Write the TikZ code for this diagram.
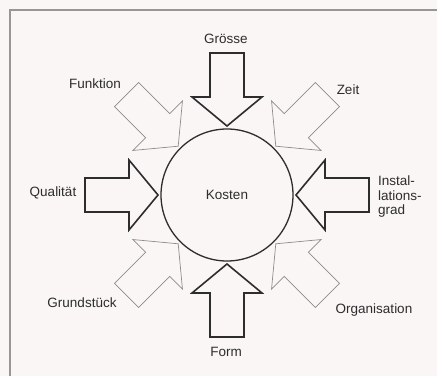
\documentclass[tikz,border=0pt]{standalone}
\usepackage{fontspec}
\setmainfont{Liberation Sans}
\definecolor{bg}{RGB}{250,246,245}
\definecolor{ink}{RGB}{45,45,45}
\definecolor{thin}{RGB}{140,140,140}
\definecolor{frame}{RGB}{150,150,150}
\begin{document}
\begin{tikzpicture}[x=1pt,y=1pt,
  lbl/.style={font=\fontsize{13.5}{14.5}\selectfont, text=ink, inner sep=0pt},
  boldarrow/.style={draw=ink, line width=1.6pt, line join=miter, fill=none},
  thinarrow/.style={draw=thin, line width=0.7pt, line join=miter, fill=none},
  centre/.style={circle, draw=ink, line width=1.3pt, minimum size=132pt, inner sep=0pt}]
\fill[bg] (0,0) rectangle (437,376);
\useasboundingbox (0,0) rectangle (437,376);
% frame
\draw[frame, line width=1.4pt] (10,0) -- (10,366) -- (437,366);
% centre
\node[centre, lbl] (kosten) at (227,181) {Kosten};
% arrows
\foreach \ang/\sty in {0/boldarrow, 90/boldarrow, 180/boldarrow, 270/boldarrow,
                       45/thinarrow, 135/thinarrow, 225/thinarrow, 315/thinarrow} {
  \begin{scope}[shift={(kosten.center)}, rotate=\ang]
    \draw[\sty] (142,17) -- (98,17) -- (98,35) -- (69,0) -- (98,-35) -- (98,-17) -- (142,-17) -- cycle;
  \end{scope}
}
% labels
\node[lbl] (groesse) at (226,337) {Grösse};
\node[lbl] (funktion) at (95,292) {Funktion};
\node[lbl] (zeit) at (348,286) {Zeit};
\node[lbl] (qualitaet) at (53,183) {Qualität};
\node[lbl, anchor=west, align=left] (install) at (378,179) {Instal-\\lations-\\grad};
\node[lbl] (grund) at (82,73) {Grundstück};
\node[lbl] (organ) at (374,66) {Organisation};
\node[lbl] (form) at (226,24) {Form};
\end{tikzpicture}
\end{document}
